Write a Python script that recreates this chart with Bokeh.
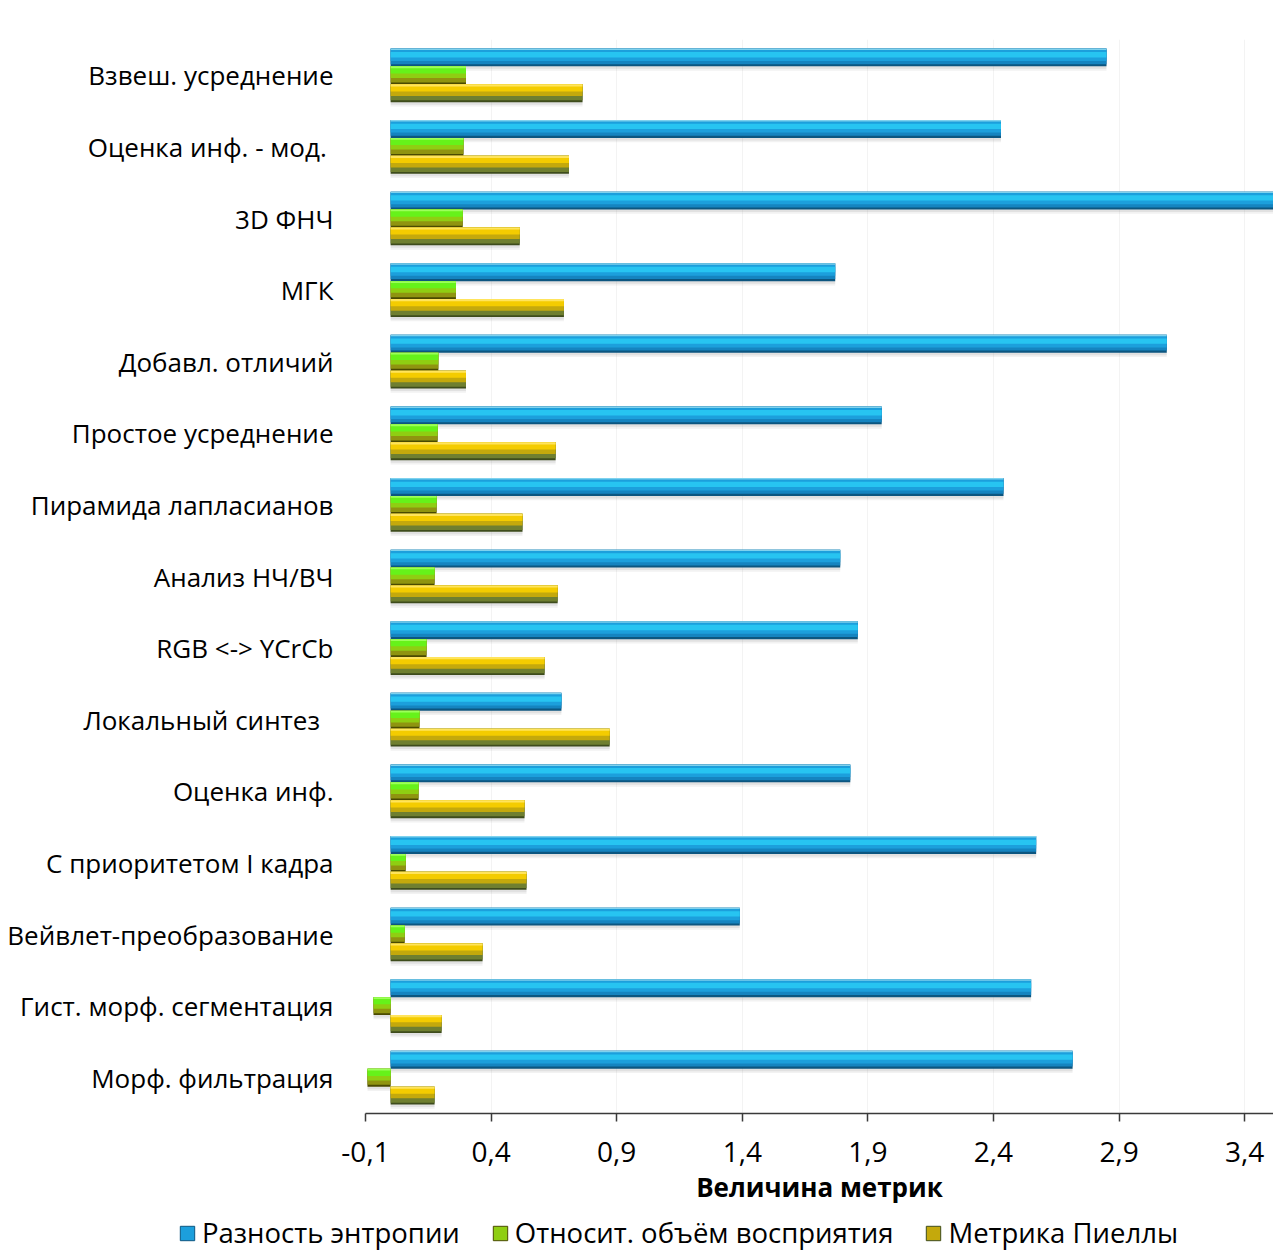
from bokeh.plotting import figure
from bokeh.layouts import column
from bokeh.models import (Range1d, FactorRange, FixedTicker, CustomJSTickFormatter,
                          Legend, LegendItem, ColumnDataSource)
from bokeh.transform import dodge
from bokeh.embed import file_html
from bokeh.resources import INLINE

# ---------------- data (top to bottom as in the picture) ----------------
categories = [
    "Взвеш. усреднение",
    "Оценка инф. - мод. ",
    "3D ФНЧ",
    "МГК",
    "Добавл. отличий",
    "Простое усреднение",
    "Пирамида лапласианов",
    "Анализ НЧ/ВЧ",
    "RGB <-> YCrCb",
    "Локальный  синтез ",
    "Оценка инф.",
    "С приоритетом I кадра",
    "Вейвлет-преобразование",
    "Гист. морф. сегментация",
    "Морф. фильтрация",
]
entropy_diff = [2.85, 2.43, 3.60, 1.77, 3.09, 1.955, 2.44, 1.79, 1.86, 0.68,
                1.83, 2.57, 1.39, 2.55, 2.715]
perception_volume = [0.30, 0.29, 0.287, 0.26, 0.19, 0.187, 0.183, 0.175, 0.143,
                     0.115, 0.111, 0.06, 0.056, -0.068, -0.092]
pielli_metric = [0.764, 0.71, 0.514, 0.69, 0.30, 0.657, 0.525, 0.665, 0.613,
                 0.872, 0.533, 0.541, 0.366, 0.203, 0.175]
series_names = ["Разность энтропии", "Относит. объём восприятия", "Метрика Пиеллы"]
x_ticks = [-0.1, 0.4, 0.9, 1.4, 1.9, 2.4, 2.9, 3.4]
x_title = "Величина метрик"

FONT = "Open Sans"

source = ColumnDataSource(dict(cat=categories, s0=entropy_diff,
                               s1=perception_volume, s2=pielli_metric,
                               zero=[0.0] * len(categories)))

p = figure(frame_width=908, frame_height=1074,
           y_range=FactorRange(factors=categories[::-1]),
           x_range=Range1d(-0.1, 3.515),
           output_backend="svg", toolbar_location=None,
           min_border_left=365, min_border_right=0,
           min_border_top=39, min_border_bottom=0)
p.frame_align = False
p.outline_line_color = None
p.background_fill_color = "white"
p.border_fill_color = "white"

H = 0.25  # bar thickness in band units
offsets = [0.25, 0.0, -0.25]
# gradient-like layers: (bottom fraction, top fraction, colour)
styles = [
    [(0.0, 1.0, "#0c5680"), (0.12, 1.0, "#1584c0"), (0.3, 0.95, "#1c9fdc"),
     (0.5, 0.8, "#27c4f1"), (0.92, 1.0, "#7fd2ee")],
    [(0.0, 1.0, "#4a4a00"), (0.1, 1.0, "#8f9410"), (0.35, 1.0, "#8fce12"),
     (0.6, 1.0, "#66f21a"), (0.9, 1.0, "#9cff5a")],
    [(0.0, 1.0, "#3e4c1c"), (0.1, 1.0, "#6f7f30"), (0.35, 1.0, "#c4a90c"),
     (0.6, 1.0, "#f4cc00"), (0.88, 1.0, "#ffe45c")],
]
cols = ["s0", "s1", "s2"]

# soft shadows
for k in range(3):
    for dy, a in [(-0.06, 0.10), (-0.035, 0.14)]:
        p.hbar(y=dodge("cat", offsets[k] + dy, range=p.y_range), height=H,
               left="zero", right=cols[k], source=source,
               fill_color="#808080", fill_alpha=a, line_color=None)

for k in range(3):
    for i, (b, t, c) in enumerate(styles[k]):
        centre = offsets[k] + ((b + t) / 2 - 0.5) * H
        p.hbar(y=dodge("cat", centre, range=p.y_range), height=(t - b) * H,
               left="zero", right=cols[k], source=source,
               fill_color=c, line_color=None)

# x axis
p.xaxis.ticker = FixedTicker(ticks=x_ticks)
p.xaxis.formatter = CustomJSTickFormatter(code="return tick.toFixed(1).replace('.', ',')")
p.xaxis.axis_line_color = "#3a3a3a"
p.xaxis.axis_line_width = 1.5
p.xaxis.major_tick_line_color = "#3a3a3a"
p.xaxis.major_tick_line_width = 1.5
p.xaxis.major_tick_out = 8
p.xaxis.major_tick_in = 0
p.xaxis.minor_tick_line_color = None
p.xaxis.major_label_text_font = FONT
p.xaxis.major_label_text_font_size = "28px"
p.xaxis.major_label_text_color = "black"
p.xaxis.major_label_standoff = 20
p.xaxis.axis_label = x_title
p.xaxis.axis_label_text_font = FONT
p.xaxis.axis_label_text_font_size = "26px"
p.xaxis.axis_label_text_font_style = "bold"
p.xaxis.axis_label_text_color = "black"
p.xaxis.axis_label_standoff = 4

# y axis
p.yaxis.axis_line_color = None
p.yaxis.major_tick_line_color = None
p.yaxis.major_tick_out = 0
p.yaxis.major_tick_in = 0
p.yaxis.minor_tick_line_color = None
p.yaxis.major_label_text_font = FONT
p.yaxis.major_label_text_font_size = "26px"
p.yaxis.major_label_text_color = "black"
p.yaxis.major_label_standoff = 32

p.xgrid.grid_line_color = "#f3f3f3"
p.ygrid.grid_line_color = None

# ---------------- legend strip below the chart ----------------
lg = figure(width=1273, height=45, output_backend="svg", toolbar_location=None,
            min_border_left=0, min_border_right=0, min_border_top=0,
            min_border_bottom=0, x_range=Range1d(0, 1), y_range=Range1d(100, 101))
lg.frame_align = False
lg.axis.visible = False
lg.grid.visible = False
lg.outline_line_color = None
lg.border_fill_color = "white"
lg.background_fill_color = "white"
swatches = []
for k in range(3):
    # same data; the strip's y-range keeps these bars out of view,
    # they only provide the legend swatches
    swatches.append(lg.hbar(y="zero", left="zero", right=cols[k], height=0.5,
                            source=source, fill_color=styles[k][2][2],
                            line_color=styles[k][0][2], line_width=1))
legend = Legend(items=[LegendItem(label=series_names[k], renderers=[swatches[k]])
                       for k in range(3)],
                orientation="horizontal", location=(178, 1))
legend.label_text_font = FONT
legend.label_text_font_size = "27.5px"
legend.label_text_color = "black"
legend.label_standoff = 6
legend.glyph_width = 18
legend.glyph_height = 18
legend.spacing = 31
legend.padding = 0
legend.margin = 0
legend.border_line_color = None
legend.background_fill_alpha = 0
lg.add_layout(legend)

open("out.html", "w").write(file_html(column(p, lg, spacing=0), INLINE))
